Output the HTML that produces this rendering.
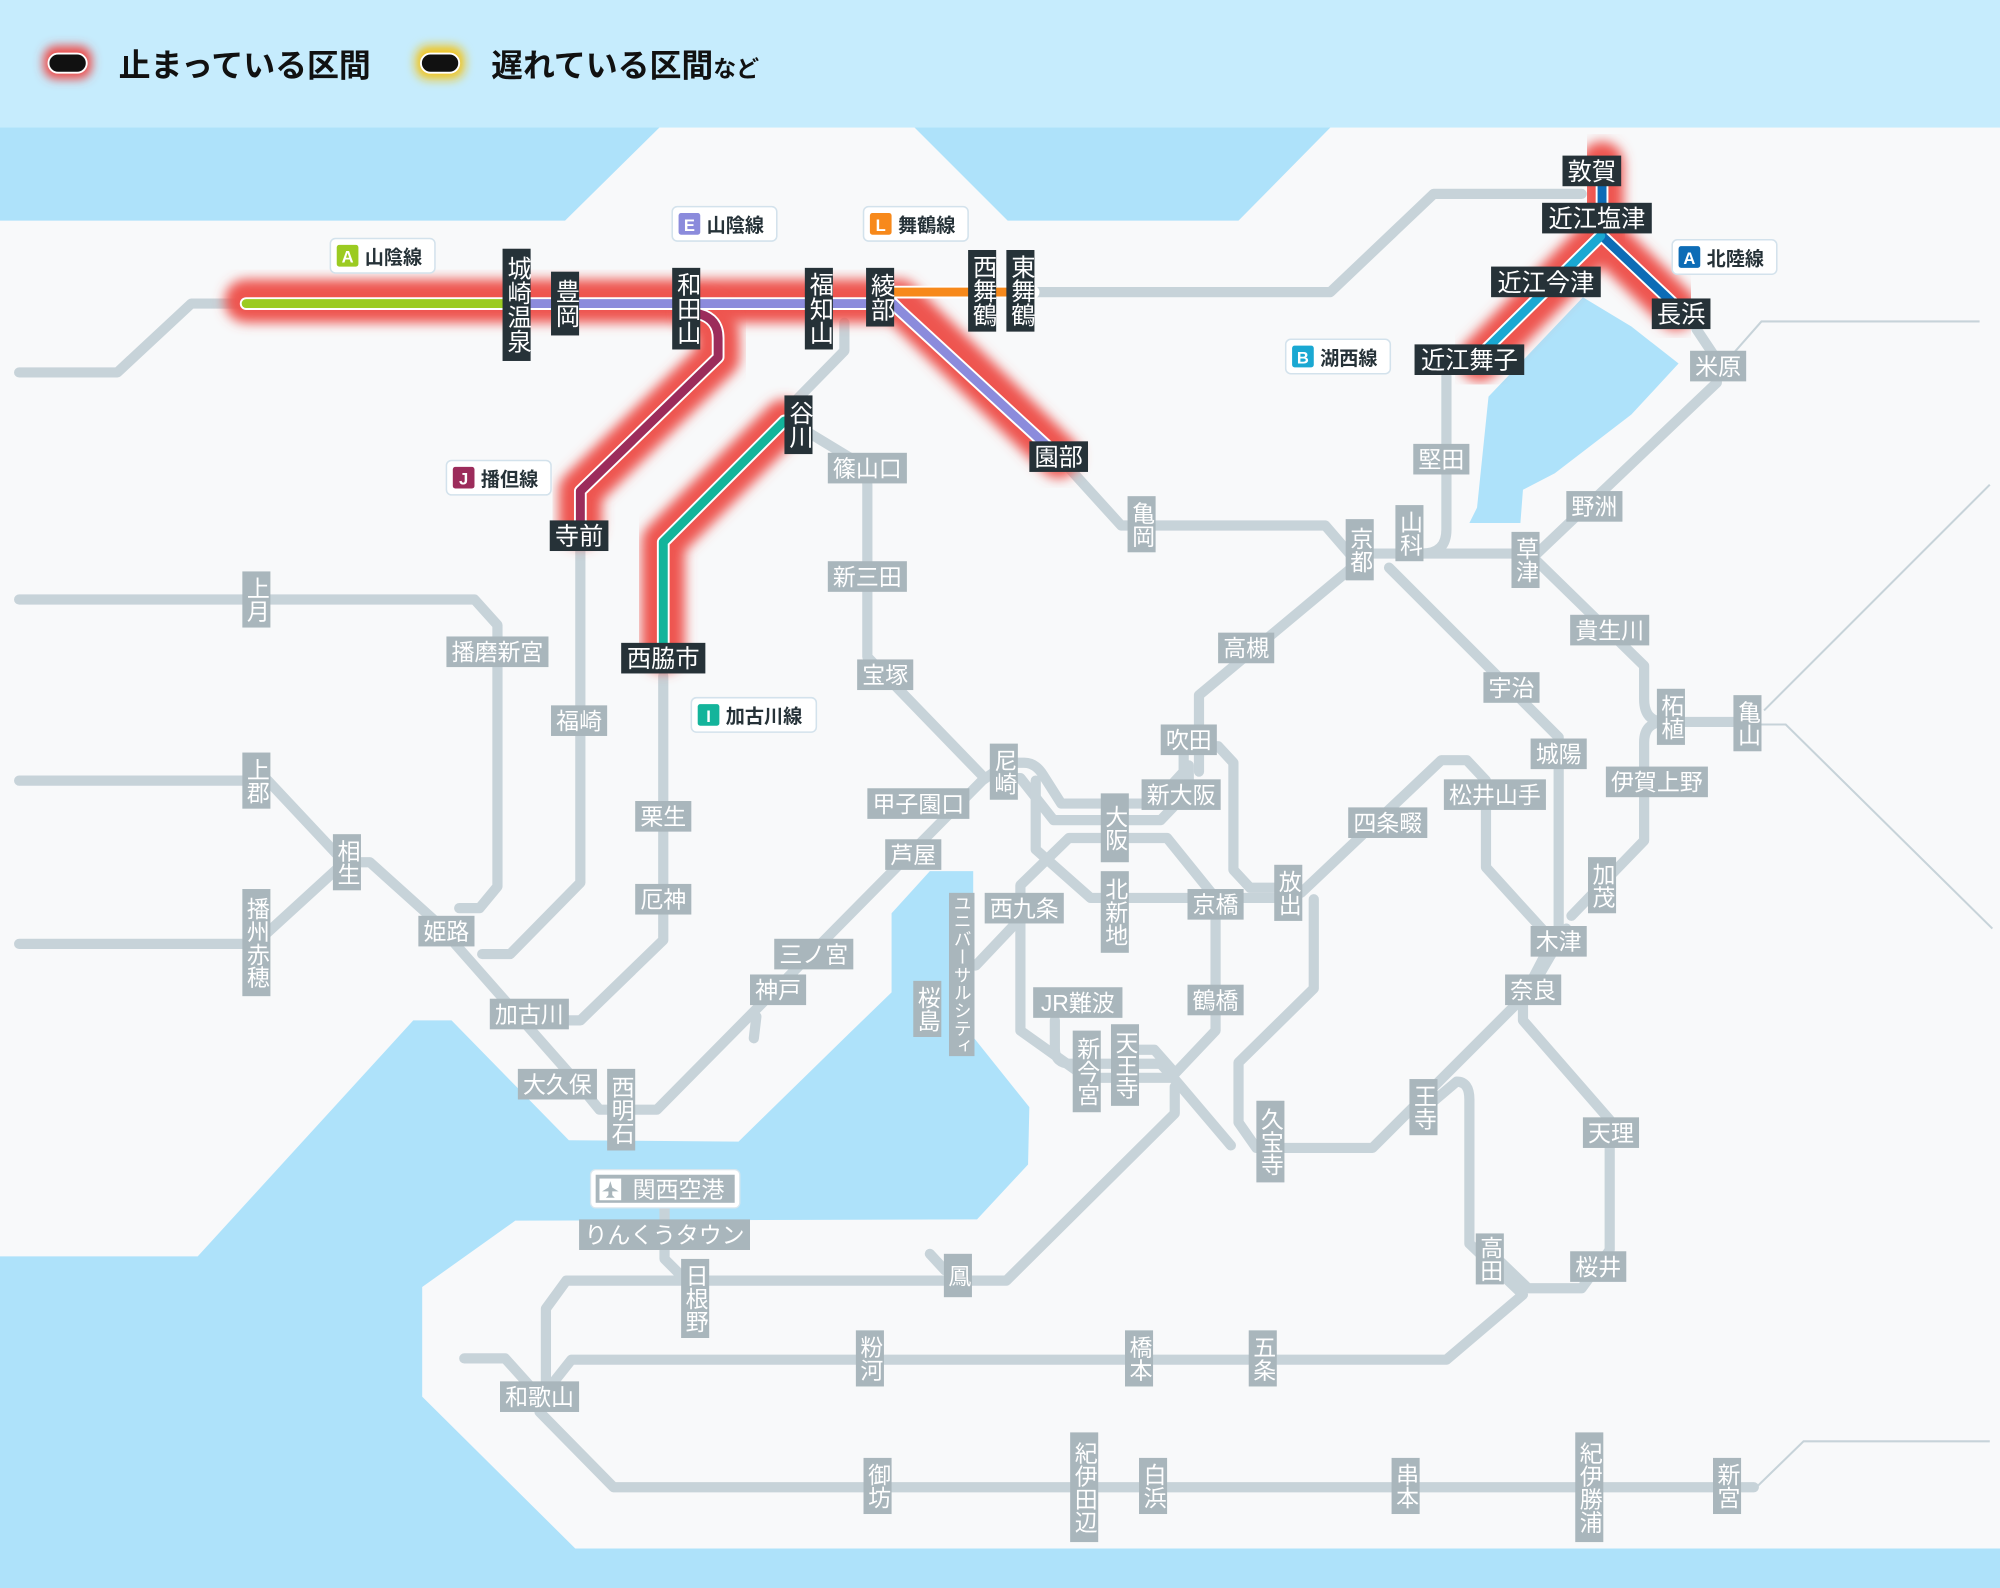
<!DOCTYPE html>
<html><head><meta charset="utf-8">
<style>
html,body{margin:0;padding:0;background:#f8f9fa;}
svg{display:block;}
text{font-family:"Liberation Sans","Noto Sans CJK JP",sans-serif;}
.g{fill:none;stroke:#c7d3d9;stroke-width:8;stroke-linejoin:round;stroke-linecap:round;}
.t{fill:none;stroke:#c7d3d9;stroke-width:1.6;}
.halo{fill:none;stroke:#ee5550;stroke-width:34;stroke-linecap:round;stroke-linejoin:round;filter:url(#bl);}
.wh{fill:none;stroke:#fff;stroke-width:10;stroke-linecap:round;stroke-linejoin:round;}
.gl rect{fill:#a9b6bc;}
.gl text{fill:#fff;font-size:18px;text-anchor:middle;}
.v{writing-mode:vertical-rl;text-anchor:middle;}
.dl rect{fill:#263238;}
.dl text{fill:#fff;font-size:19px;text-anchor:middle;}
.bd rect.o{fill:#fff;stroke:#d3e2ec;stroke-width:1.2;}
.bd text{font-size:15px;fill:#263238;font-weight:bold;}
.bd text.l{fill:#fff;font-size:13px;text-anchor:middle;}
</style></head>
<body>
<svg width="2000" height="1588" viewBox="0 0 1568 1245" preserveAspectRatio="none" xmlns="http://www.w3.org/2000/svg">
<defs>
<filter id="bl" x="-20%" y="-20%" width="140%" height="140%"><feGaussianBlur stdDeviation="4.5"/></filter>
<filter id="bl2" x="-50%" y="-50%" width="200%" height="200%"><feGaussianBlur stdDeviation="4"/></filter>
</defs>
<rect x="0" y="0" width="1568" height="1245" fill="#f8f9fa"/>
<g fill="#aee2fa">
<polygon points="0,100 517,100 443,173 0,173"/>
<polygon points="717,100 1043,100 971,173 790,173"/>
<polygon points="0,985 155,985 324,800 354,800 446,894 579,895 666,810 699,778 699,716 729,683 763,683 763,813 807,868 806,913 766,956 404,957 331,1009 331,1095 451,1214 1568,1214 1568,1245 0,1245"/>
<polygon points="1241,233 1279,256 1316,285 1279,325 1219,371 1194,384 1192,410 1152,410 1158,398 1167,311 1204,272"/>
</g>
<rect x="0" y="0" width="1568" height="100" fill="#c6ecfd"/>
<rect x="34" y="36" width="38" height="26" rx="10" fill="#ee4b48" filter="url(#bl2)"/>
<rect x="38" y="42" width="30" height="15" rx="7.5" fill="#111" stroke="#fff" stroke-width="1.5"/>
<text x="93" y="60" font-size="25" font-weight="bold" fill="#111">止まっている区間</text>
<rect x="326" y="36" width="38" height="26" rx="10" fill="#f2c318" filter="url(#bl2)"/>
<rect x="330" y="42" width="30" height="15" rx="7.5" fill="#111" stroke="#fff" stroke-width="1.5"/>
<text x="385" y="60" font-size="25" font-weight="bold" fill="#111">遅れている区間<tspan font-size="18">など</tspan></text>

<path class="t" d="M1359,277 L1381,252 H1552"/>
<path class="t" d="M1383,557 L1560,380"/>
<path class="t" d="M1380,568 H1400 L1562,728"/>
<path class="t" d="M1368,1166 H1377 L1414,1130 H1560"/>

<path class="g" d="M15,292 H92 L150,238 H193"/>
<path class="g" d="M810,229 H1043 L1124,152 H1240"/>
<path class="g" d="M662,253 V275 L620,318"/>
<path class="g" d="M632,338 L665,358 Q680,365 680,380 V515 L770,608"/>
<path class="g" d="M15,470 H372 L390,490 V695 L376,712 H360"/>
<path class="g" d="M455,430 V692 L400,748 H378"/>
<path class="g" d="M520,530 V737 L455,800 H430"/>
<path class="g" d="M15,612 H210 L270,676 H290 L340,721 L452,848 L470,870 H515 L770,612 L790,598"/>
<path class="g" d="M15,740 H200 L270,676"/>
<path class="g" d="M593,797 L591,814"/>
<path class="g" d="M830,358 L879,412 H1039 L1058,434"/>
<path class="g" d="M1060,434 H1205 L1346,300 V282 L1330,258"/>
<path class="g" d="M1134,295 V415 Q1134,434 1115,434"/>
<path class="g" d="M1066,440 L940,545 V605"/>
<path class="g" d="M790,598 H803 Q812,598 818,608 L832,630 H905 L928,605 V580"/>
<path class="g" d="M787,610 H800 L826,643 H910 L932,620 V600"/>
<path class="g" d="M812,612 V666 L855,704 H1010"/>
<path class="g" d="M838,657 H915 L953,704 V808 L918,845 H852 L800,808 V694 Z"/>
<path class="g" d="M932,585 H955 L967,598 V682 L980,696 H1015"/>
<path class="g" d="M1030,705 V775 L971,833 V880 L985,900 H1076 L1116,860 L1200,776 L1228,728"/>
<path class="g" d="M1020,700 L1130,596 H1150 L1165,612 V680 L1215,735"/>
<path class="g" d="M1089,445 L1222,578 V728 L1194,782 V800 L1262,878 V980 L1240,1010 H1198 L1172,985"/>
<path class="g" d="M1205,440 L1289,522 V548 Q1289,566 1305,566 H1375"/>
<path class="g" d="M1305,566 Q1289,566 1289,582 V659 L1232,718"/>
<path class="g" d="M1116,870 L1142,848 Q1152,848 1152,862 V975 L1194,1015 L1134,1066 H448 L425,1095"/>
<path class="g" d="M364,1065 H396 L423,1095 V1107 L481,1166 H1375"/>
<path class="g" d="M921,852 V873 L789,1004 H444 L428,1026 V1095"/>
<path class="g" d="M729,983 L741,996"/>
<path class="g" d="M550,1004 L534,1000 L521,987 V935"/>
<path class="g" d="M827,800 V822 Q827,834 840,834 H910 L920,845 L965,898"/>
<path class="g" d="M880,823 H905 L920,840"/>
<path class="g" d="M800,720 L765,757"/>

<g>
<path class="halo" d="M193,236 H705 L830,358"/>
<path class="halo" d="M700,231 H810"/>
<path class="halo" d="M548,246 Q563,250 563,265 V280 L455,385 V412"/>
<path class="halo" d="M615,330 L520,425 V510"/>
<path class="halo" d="M1256,128 V185 L1314,242"/>
<path class="halo" d="M1255,185 L1160,282"/>
</g>
<path class="wh" d="M193,238 H700 L705,243 L830,358"/>
<path class="wh" d="M700,229 H810"/>
<path class="wh" d="M548,246 Q563,250 563,265 V280 L455,385 V412"/>
<path class="wh" d="M615,330 L520,425 V510"/>
<path class="wh" d="M1256,135 V185 L1314,240"/>
<path class="wh" d="M1255,185 L1164,275"/>
<g fill="none" stroke-width="7" stroke-linecap="round" stroke-linejoin="round">
<path d="M700,229 H810" stroke="#f7891b" stroke-linecap="butt"/>
<path d="M400,238 H700 L705,243 L830,358" stroke="#8b8bdc"/>
<path d="M193,238 H400" stroke="#9bcb21"/>
<path d="M548,246 Q563,250 563,265 V280 L455,385 V412" stroke="#9c2c5b"/>
<path d="M615,330 L520,425 V510" stroke="#13b49b"/>
<path d="M1256,135 V185 L1314,240" stroke="#0d6cb6"/>
<path d="M1255,185 L1164,275" stroke="#1aa8d2"/>
</g>

<g class="gl">
<rect x="649" y="355" width="62" height="24"/><text x="680" y="373.5">篠山口</text>
<rect x="649" y="440" width="62" height="24"/><text x="680" y="458.5">新三田</text>
<rect x="672" y="517" width="44" height="24"/><text x="694" y="535.5">宝塚</text>
<rect x="350" y="499" width="80" height="24"/><text x="390" y="517.5">播磨新宮</text>
<rect x="432" y="553" width="44" height="24"/><text x="454" y="571.5">福崎</text>
<rect x="498" y="628" width="44" height="24"/><text x="520" y="646.5">栗生</text>
<rect x="498" y="693" width="44" height="24"/><text x="520" y="711.5">厄神</text>
<rect x="328" y="718" width="44" height="24"/><text x="350" y="736.5">姫路</text>
<rect x="384" y="783" width="62" height="24"/><text x="415" y="801.5">加古川</text>
<rect x="406" y="838" width="62" height="24"/><text x="437" y="856.5">大久保</text>
<rect x="607" y="736" width="62" height="24"/><text x="638" y="754.5">三ノ宮</text>
<rect x="588" y="764" width="44" height="24"/><text x="610" y="782.5">神戸</text>
<rect x="694" y="658" width="44" height="24"/><text x="716" y="676.5">芦屋</text>
<rect x="680" y="618" width="80" height="24"/><text x="720" y="636.5">甲子園口</text>
<rect x="772" y="700" width="62" height="24"/><text x="803" y="718.5">西九条</text>
<rect x="910" y="568" width="44" height="24"/><text x="932" y="586.5">吹田</text>
<rect x="895" y="611" width="62" height="24"/><text x="926" y="629.5">新大阪</text>
<rect x="931" y="697" width="44" height="24"/><text x="953" y="715.5">京橋</text>
<rect x="931" y="772" width="44" height="24"/><text x="953" y="790.5">鶴橋</text>
<rect x="810" y="774" width="70" height="24"/><text x="845" y="792.5">JR難波</text>
<rect x="955" y="496" width="44" height="24"/><text x="977" y="514.5">高槻</text>
<rect x="1108" y="348" width="44" height="24"/><text x="1130" y="366.5">堅田</text>
<rect x="1228" y="385" width="44" height="24"/><text x="1250" y="403.5">野洲</text>
<rect x="1325" y="275" width="44" height="24"/><text x="1347" y="293.5">米原</text>
<rect x="1231" y="482" width="62" height="24"/><text x="1262" y="500.5">貴生川</text>
<rect x="1163" y="527" width="44" height="24"/><text x="1185" y="545.5">宇治</text>
<rect x="1200" y="579" width="44" height="24"/><text x="1222" y="597.5">城陽</text>
<rect x="1259" y="601" width="80" height="24"/><text x="1299" y="619.5">伊賀上野</text>
<rect x="1132" y="611" width="80" height="24"/><text x="1172" y="629.5">松井山手</text>
<rect x="1057" y="633" width="62" height="24"/><text x="1088" y="651.5">四条畷</text>
<rect x="1200" y="726" width="44" height="24"/><text x="1222" y="744.5">木津</text>
<rect x="1180" y="764" width="44" height="24"/><text x="1202" y="782.5">奈良</text>
<rect x="1241" y="876" width="44" height="24"/><text x="1263" y="894.5">天理</text>
<rect x="1231" y="981" width="44" height="24"/><text x="1253" y="999.5">桜井</text>
<rect x="454" y="956" width="134" height="24"/><text x="521" y="974.5">りんくうタウン</text>
<rect x="392" y="1083" width="62" height="24"/><text x="423" y="1101.5">和歌山</text>
</g>
<g class="gl">
<rect x="190" y="448" width="22" height="44"/><text class="v" x="201" y="470">上月</text>
<rect x="190" y="590" width="22" height="44"/><text class="v" x="201" y="612">上郡</text>
<rect x="190" y="697" width="22" height="84"/><text class="v" x="201" y="739">播州赤穂</text>
<rect x="261" y="654" width="22" height="44"/><text class="v" x="272" y="676">相生</text>
<rect x="476" y="838" width="22" height="64"/><text class="v" x="487" y="870">西明石</text>
<rect x="776" y="583" width="22" height="44"/><text class="v" x="787" y="605">尼崎</text>
<rect x="863" y="622" width="22" height="54"/><text class="v" x="874" y="649">大阪</text>
<rect x="863" y="683" width="22" height="64"/><text class="v" x="874" y="715">北新地</text>
<rect x="744" y="700" width="20" height="128"/><text class="v" x="754" y="764" style="font-size:14px">ユニバーサルシティ</text>
<rect x="716" y="769" width="22" height="44"/><text class="v" x="727" y="791">桜島</text>
<rect x="841" y="808" width="22" height="64"/><text class="v" x="852" y="840">新今宮</text>
<rect x="871" y="803" width="22" height="64"/><text class="v" x="882" y="835">天王寺</text>
<rect x="999" y="678" width="22" height="44"/><text class="v" x="1010" y="700">放出</text>
<rect x="985" y="863" width="22" height="64"/><text class="v" x="996" y="895">久宝寺</text>
<rect x="1105" y="846" width="22" height="44"/><text class="v" x="1116" y="868">王寺</text>
<rect x="1055" y="407" width="22" height="48"/><text class="v" x="1066" y="431">京都</text>
<rect x="1094" y="396" width="22" height="44"/><text class="v" x="1105" y="418">山科</text>
<rect x="1185" y="417" width="22" height="44"/><text class="v" x="1196" y="439">草津</text>
<rect x="884" y="389" width="22" height="44"/><text class="v" x="895" y="411">亀岡</text>
<rect x="1299" y="540" width="22" height="44"/><text class="v" x="1310" y="562">柘植</text>
<rect x="1359" y="545" width="22" height="44"/><text class="v" x="1370" y="567">亀山</text>
<rect x="1245" y="672" width="22" height="44"/><text class="v" x="1256" y="694">加茂</text>
<rect x="1157" y="967" width="22" height="40"/><text class="v" x="1168" y="987">高田</text>
<rect x="534" y="987" width="22" height="62"/><text class="v" x="545" y="1018">日根野</text>
<rect x="740" y="983" width="22" height="34"/><text class="v" x="751" y="1000">鳳</text>
<rect x="671" y="1043" width="22" height="44"/><text class="v" x="682" y="1065">粉河</text>
<rect x="882" y="1043" width="22" height="44"/><text class="v" x="893" y="1065">橋本</text>
<rect x="979" y="1043" width="22" height="44"/><text class="v" x="990" y="1065">五条</text>
<rect x="677" y="1143" width="22" height="44"/><text class="v" x="688" y="1165">御坊</text>
<rect x="839" y="1123" width="22" height="86"/><text class="v" x="850" y="1166">紀伊田辺</text>
<rect x="893" y="1143" width="22" height="44"/><text class="v" x="904" y="1165">白浜</text>
<rect x="1091" y="1143" width="22" height="44"/><text class="v" x="1102" y="1165">串本</text>
<rect x="1235" y="1123" width="22" height="86"/><text class="v" x="1246" y="1166">紀伊勝浦</text>
<rect x="1343" y="1143" width="22" height="44"/><text class="v" x="1354" y="1165">新宮</text>
</g>
<rect x="463" y="917" width="117" height="30" rx="4" fill="#fff" stroke="#d8e6ee" stroke-width="1"/>
<rect x="467" y="921" width="109" height="22" fill="#a9b6bc"/>
<rect x="470" y="924" width="17" height="17" fill="#fff"/>
<path d="M478.5,926 L480,931 L485,934 L480,934 L480,937 L482,939 L475,939 L477,937 L477,934 L472,934 L477,931 Z" fill="#a9b6bc"/>
<text x="532" y="939" font-size="18" fill="#fff" text-anchor="middle">関西空港</text>

<g class="dl">
<rect x="394" y="195" width="22" height="88"/><text class="v" x="405" y="239">城崎温泉</text>
<rect x="432" y="213" width="22" height="50"/><text class="v" x="443" y="238">豊岡</text>
<rect x="527" y="210" width="22" height="64"/><text class="v" x="538" y="242">和田山</text>
<rect x="631" y="210" width="22" height="64"/><text class="v" x="642" y="242">福知山</text>
<rect x="679" y="210" width="22" height="46"/><text class="v" x="690" y="233">綾部</text>
<rect x="759" y="196" width="22" height="64"/><text class="v" x="770" y="228">西舞鶴</text>
<rect x="789" y="196" width="22" height="64"/><text class="v" x="800" y="228">東舞鶴</text>
<rect x="615" y="310" width="22" height="46"/><text class="v" x="626" y="333">谷川</text>
<rect x="431" y="408" width="46" height="24"/><text x="454" y="427">寺前</text>
<rect x="487" y="504" width="66" height="24"/><text x="520" y="523">西脇市</text>
<rect x="807" y="346" width="46" height="24"/><text x="830" y="365">園部</text>
<rect x="1225" y="122" width="46" height="24"/><text x="1248" y="141">敦賀</text>
<rect x="1209" y="159" width="86" height="24"/><text x="1252" y="178">近江塩津</text>
<rect x="1169" y="209" width="86" height="24"/><text x="1212" y="228">近江今津</text>
<rect x="1295" y="234" width="46" height="24"/><text x="1318" y="253">長浜</text>
<rect x="1109" y="270" width="86" height="24"/><text x="1152" y="289">近江舞子</text>
</g>

<g class="bd">
<rect class="o" x="259" y="187" width="82" height="27" rx="4"/><rect x="264" y="192" width="17" height="17" rx="2" fill="#9bcb21"/><text class="l" x="272.5" y="206">A</text><text x="286" y="207">山陰線</text>
<rect class="o" x="527" y="162" width="82" height="27" rx="4"/><rect x="532" y="167" width="17" height="17" rx="2" fill="#8b8bdc"/><text class="l" x="540.5" y="181">E</text><text x="554" y="182">山陰線</text>
<rect class="o" x="677" y="162" width="82" height="27" rx="4"/><rect x="682" y="167" width="17" height="17" rx="2" fill="#f7891b"/><text class="l" x="690.5" y="181">L</text><text x="704" y="182">舞鶴線</text>
<rect class="o" x="350" y="361" width="82" height="27" rx="4"/><rect x="355" y="366" width="17" height="17" rx="2" fill="#9c2c5b"/><text class="l" x="363.5" y="380">J</text><text x="377" y="381">播但線</text>
<rect class="o" x="542" y="547" width="98" height="27" rx="4"/><rect x="547" y="552" width="17" height="17" rx="2" fill="#13b49b"/><text class="l" x="555.5" y="566">I</text><text x="569" y="567">加古川線</text>
<rect class="o" x="1008" y="266" width="82" height="27" rx="4"/><rect x="1013" y="271" width="17" height="17" rx="2" fill="#1aa8d2"/><text class="l" x="1021.5" y="285">B</text><text x="1035" y="286">湖西線</text>
<rect class="o" x="1311" y="188" width="82" height="27" rx="4"/><rect x="1316" y="193" width="17" height="17" rx="2" fill="#0d6cb6"/><text class="l" x="1324.5" y="207">A</text><text x="1338" y="208">北陸線</text>
</g>
</svg>
</body></html>
